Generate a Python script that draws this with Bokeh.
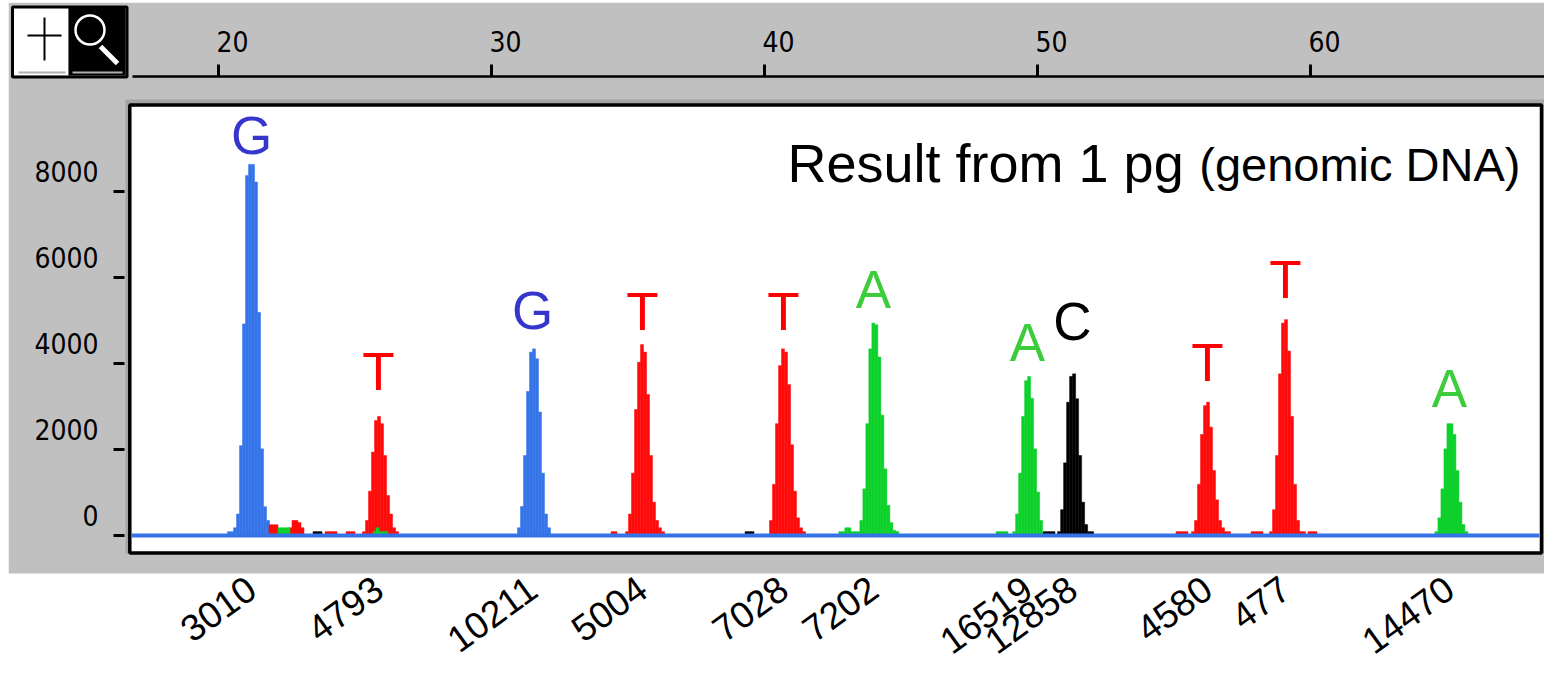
import math
from bokeh.plotting import figure
from bokeh.models import Range1d, LinearAxis, FixedTicker, ColumnDataSource
from bokeh.core.properties import value
from bokeh.embed import file_html
from bokeh.resources import INLINE

# ---------------- data ----------------
bases = ["G", "T", "G", "T", "T", "A", "A", "C", "T", "T", "A"]
peak_pos = [21.209, 25.861, 31.502, 35.531, 40.696, 43.993, 49.634, 51.282, 56.227, 59.084, 65.092]
base_label_height = [8814, 3326, 4744, 4721, 4721, 5233, 4000, 4488, 3535, 5465, 2930]
read_ids = ["3010", "4793", "10211", "5004", "7028", "7202", "16519", "12858", "4580", "477", "14470"]

top_ticks = [20, 30, 40, 50, 60]
left_ticks = [0, 2000, 4000, 6000, 8000]

# each peak: first bin position and bin heights
peak_start = [20.385, 25.330, 31.007, 34.963, 40.238, 42.777, 49.143, 50.791, 55.696, 58.553, 64.612]
peak_G1 = [90, 90, 180, 500, 2090, 4920, 8370, 8630, 8630, 8220, 5190, 2015, 670, 350, 180, 90, 90]
peak_T1 = [90, 350, 1030, 1940, 2675, 2770, 2600, 1860, 930, 500, 180, 90]
peak_G2 = [180, 675, 1860, 3350, 4265, 4340, 4110, 2870, 1450, 500, 180]
peak_T2 = [90, 500, 1450, 2930, 4030, 4440, 4265, 3280, 1860, 775, 350, 180, 90]
peak_T3 = [350, 1190, 2600, 3950, 4340, 4265, 3510, 2110, 1030, 410, 180, 90]
peak_A1 = [90, 90, 180, 180, 90, 90, 90, 350, 1085, 2600, 4340, 4940, 4900, 4150, 2800, 1550, 700, 300, 120, 90]
peak_A2 = [90, 500, 1450, 2770, 3600, 3700, 3190, 2015, 1010, 350]
peak_C1 = [90, 600, 1690, 3100, 3700, 3760, 3180, 1860, 775, 255, 90, 90]
peak_T4 = [90, 350, 1190, 2350, 3020, 3100, 2520, 1510, 830, 350, 180, 90, 90]
peak_T5 = [90, 600, 1860, 3760, 4940, 5020, 4290, 2770, 1190, 350, 90, 90]
peak_A3 = [90, 410, 1085, 2015, 2600, 2600, 2350, 1510, 775, 255, 90]
peak_values = [peak_G1, peak_T1, peak_G2, peak_T2, peak_T3, peak_A1,
               peak_A2, peak_C1, peak_T4, peak_T5, peak_A3]

# small background signal
red_noise_x = [21.905, 22.015, 22.125, 22.637, 22.747, 22.857, 22.967, 23.077, 23.956, 24.066,
               24.176, 24.286, 24.725, 24.835, 24.945, 34.432, 34.542, 55.128, 55.238, 55.348,
               55.458, 57.875, 57.985, 58.095, 58.205, 59.963, 60.073, 60.183]
red_noise_h = [250, 250, 250, 180, 350, 350, 300, 180, 90, 90,
               90, 90, 90, 90, 90, 90, 90, 90, 90, 90,
               90, 90, 90, 90, 90, 90, 90, 90]
green_noise_x = [22.234, 22.344, 22.454, 22.564, 25.714, 25.824, 25.934, 26.044, 26.154,
                 48.535, 48.645, 48.755, 48.864]
green_noise_h = [180, 180, 180, 180, 90, 180, 90, 90, 90, 90, 90, 90, 90]
black_noise_x = [23.516, 23.626, 23.736, 39.341, 39.451, 39.560, 50.256, 50.366, 50.476, 50.586]
black_noise_h = [90, 90, 90, 90, 90, 90, 90, 90, 90, 90]

# ---------------- style / layout ----------------
BIN_W = 0.11
TRACE = {"G": "#3574e8", "T": "#ff0a0a", "C": "#000000", "A": "#0cd12a"}
LETTER = {"G": "#3636cc", "T": "#ff0000", "C": "#000000", "A": "#3ccc3c"}
GRAY = "#c0c0c0"
W = 1544
H = 662
TICK_FONT = "DejaVu Sans Condensed, Liberation Sans, sans-serif"
TICK_SIZE = "28px"

X_PER_PX = 1 / 27.3
Y_PER_PX = 2000 / 86


def px_x(px):
    return 20 + (px - 218) * X_PER_PX


def px_y(py):
    return (535 - py) * Y_PER_PX


xr = Range1d(px_x(8), px_x(W))
yr = Range1d(px_y(H), px_y(2))

p = figure(width=W, height=H, x_range=xr, y_range=yr,
           x_axis_location=None, y_axis_location=None,
           output_backend="svg", toolbar_location=None,
           min_border=0, min_border_left=8, min_border_top=2,
           background_fill_color="white", border_fill_color="white",
           outline_line_color=None)
p.grid.visible = False

# shifted ranges for the offset tick labels
shx = 14 * X_PER_PX
shy = 20 * Y_PER_PX
p.extra_x_ranges = {"toplbl": Range1d(xr.start - shx, xr.end - shx)}
p.extra_y_ranges = {"leftlbl": Range1d(yr.start - shy, yr.end - shy)}

# gray instrument panel, shadow and white plot box
p.quad(left=px_x(8), right=px_x(W), top=px_y(2), bottom=px_y(573),
       fill_color=GRAY, line_color=None)
p.quad(left=px_x(125), right=px_x(W), top=px_y(99), bottom=px_y(553),
       fill_color="#a4a4a4", line_color=None)
p.quad(left=px_x(129.3), right=px_x(1541), top=px_y(104.5), bottom=px_y(552.5),
       fill_color="white", line_color="black", line_width=3.5)

# icons (cross + magnifier)
p.quad(left=px_x(13), right=px_x(68), top=px_y(7), bottom=px_y(75),
       fill_color="white", line_color=None)
p.quad(left=px_x(68), right=px_x(125), top=px_y(7), bottom=px_y(75),
       fill_color="black", line_color=None)
p.segment(x0=[px_x(18)], y0=[px_y(72)], x1=[px_x(65)], y1=[px_y(72)],
          line_color="#b0b0b0", line_width=2)
p.segment(x0=[px_x(72)], y0=[px_y(72)], x1=[px_x(122)], y1=[px_y(72)],
          line_color="#b0b0b0", line_width=2)
p.quad(left=px_x(12), right=px_x(126.5), top=px_y(6.5), bottom=px_y(76.5),
       fill_color=None, line_color="black", line_width=3)
p.segment(x0=[px_x(27), px_x(44)], y0=[px_y(35), px_y(17)],
          x1=[px_x(61), px_x(44)], y1=[px_y(35), px_y(60)],
          line_color="black", line_width=2)
p.scatter(x=[px_x(89.5)], y=[px_y(29.5)], size=29, marker="circle",
          fill_color=None, line_color="white", line_width=2.5)
p.segment(x0=[px_x(100)], y0=[px_y(46)], x1=[px_x(117)], y1=[px_y(63)],
          line_color="white", line_width=5)

# ---------------- trace bars ----------------
bars = {c: {"x": [], "top": []} for c in "GTCA"}
for b, start, vals in zip(bases, peak_start, peak_values):
    for k, v in enumerate(vals):
        bars[b]["x"].append(start + k * BIN_W)
        bars[b]["top"].append(v)
bars["T"]["x"] += red_noise_x
bars["T"]["top"] += red_noise_h
bars["A"]["x"] += green_noise_x
bars["A"]["top"] += green_noise_h
bars["C"]["x"] += black_noise_x
bars["C"]["top"] += black_noise_h

for ch in ["G", "T", "C", "A"]:
    src = ColumnDataSource(bars[ch])
    p.vbar(x="x", top="top", bottom=0, width=BIN_W, source=src,
           fill_color=TRACE[ch], line_color=TRACE[ch], line_width=0.5)

# baseline
p.line(x=[px_x(131), px_x(1539)], y=[0, 0], line_color=TRACE["G"], line_width=4)

# base call letters
p.text(x=peak_pos, y=base_label_height, text=bases,
       text_color=[LETTER[b] for b in bases],
       text_font=value("Liberation Sans"), text_font_size="53px",
       text_align="center", text_baseline="alphabetic", y_offset=-21)

# title
p.text(x=[px_x(787)], y=[px_y(183)], text=["Result from 1 pg"],
       text_font=value("Liberation Sans"), text_font_size="54px",
       text_color="black", text_align="left", text_baseline="alphabetic",
       y_offset=-21)
p.text(x=[px_x(1520)], y=[px_y(183)], text=["(genomic DNA)"],
       text_font=value("Liberation Sans"), text_font_size="47px",
       text_color="black", text_align="right", text_baseline="alphabetic",
       y_offset=-19)

# read-id labels under the trace (rotated)
p.text(x=peak_pos, y=[px_y(584)] * len(peak_pos), text=read_ids,
       angle=math.radians(36), text_align="right", text_baseline="middle",
       text_font=value("Liberation Sans"), text_font_size="37px",
       text_color="black")

# ---------------- axes ----------------
y_top = px_y(76)
top_ax = LinearAxis(fixed_location=y_top, ticker=FixedTicker(ticks=top_ticks),
                    bounds=(px_x(132), px_x(W)),
                    axis_line_color="black", axis_line_width=2.5,
                    major_tick_out=12, major_tick_in=0, major_tick_line_width=3,
                    minor_tick_line_color=None, major_label_text_color=None)
p.add_layout(top_ax, "above")
top_lbl = LinearAxis(x_range_name="toplbl", fixed_location=y_top,
                     ticker=FixedTicker(ticks=top_ticks),
                     axis_line_color=None, major_tick_line_color=None,
                     minor_tick_line_color=None, major_tick_out=12,
                     major_label_standoff=13,
                     major_label_text_font=TICK_FONT,
                     major_label_text_font_size=TICK_SIZE,
                     major_label_text_color="black")
p.add_layout(top_lbl, "above")

x_left = px_x(124)
left_ax = LinearAxis(fixed_location=x_left, ticker=FixedTicker(ticks=left_ticks),
                     bounds=(px_y(553), px_y(99)),
                     axis_line_color=None, major_tick_out=11, major_tick_in=0,
                     major_tick_line_width=3, minor_tick_line_color=None,
                     major_label_text_color=None)
p.add_layout(left_ax, "left")
left_lbl = LinearAxis(y_range_name="leftlbl", fixed_location=x_left,
                      ticker=FixedTicker(ticks=left_ticks),
                      axis_line_color=None, major_tick_line_color=None,
                      minor_tick_line_color=None, major_tick_out=11,
                      major_label_standoff=15,
                      major_label_text_font=TICK_FONT,
                      major_label_text_font_size=TICK_SIZE,
                      major_label_text_color="black")
p.add_layout(left_lbl, "left")

open("out.html", "w").write(file_html(p, INLINE))
